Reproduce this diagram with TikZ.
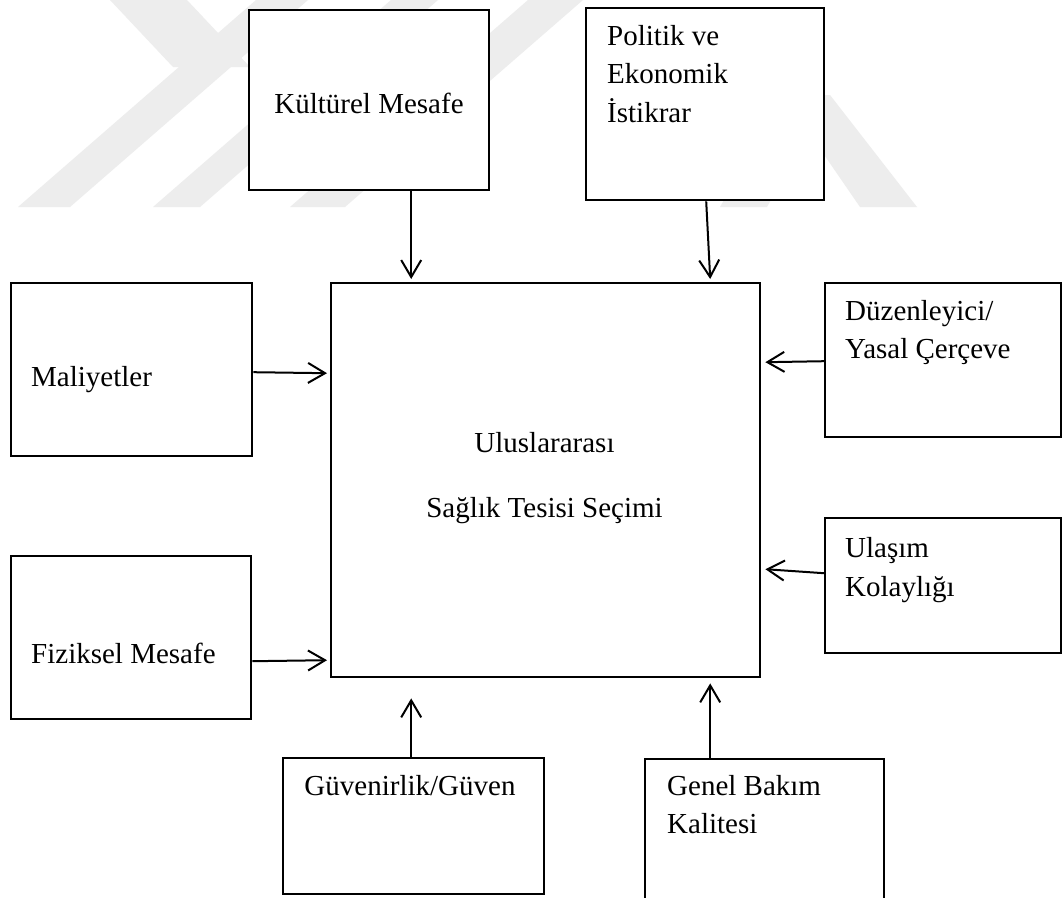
\documentclass[tikz,border=0pt]{standalone}
\usepackage{fontspec}
\setmainfont{Liberation Serif}
\usetikzlibrary{arrows.meta}

\definecolor{wmark}{RGB}{237,237,237}

\tikzset{
  box/.style={draw=black, line width=2.4pt, fill=white, rectangle, inner sep=0pt, anchor=north west},
  lbl/.style={anchor=base west, inner sep=0pt, font=\fontsize{29}{39}\selectfont},
  clbl/.style={anchor=base, inner sep=0pt, font=\fontsize{29}{39}\selectfont},
  arr/.style={line width=2pt, -{Straight Barb[length=17pt,width=20pt,line width=2pt]}},
  band/.style={fill=wmark, draw=none}
}

\begin{document}
\begin{tikzpicture}[x=1pt, y=-1pt]
  \useasboundingbox (0,0) rectangle (1062,897);
  \clip (0,0) rectangle (1062,897);
  \fill[white] (0,0) rectangle (1062,897);

  % light background emblem
  \fill[band] (18,207) -- (70,207) -- (308,0) -- (256,0) -- cycle;
  \fill[band] (110,0) -- (187,0) -- (250,67) -- (173,67) -- cycle;
  \fill[band] (153,207) -- (200,207) -- (438,0) -- (391,0) -- cycle;
  \fill[band] (290,207) -- (345,207) -- (583,0) -- (528,0) -- cycle;
  \fill[band] (720,207) -- (767,207) -- (830,95) -- (783,95) -- cycle;
  \fill[band] (783,95) -- (830,95) -- (917,207) -- (860,207) -- cycle;

  % boxes
  \node[box, minimum width=240pt, minimum height=180pt] (kult) at (248,9) {};
  \node[box, minimum width=238pt, minimum height=192pt] (pol) at (585,7) {};
  \node[box, minimum width=429pt, minimum height=394pt] (main) at (330,282) {};
  \node[box, minimum width=241pt, minimum height=173pt] (mal) at (10,282) {};
  \node[box, minimum width=236pt, minimum height=154pt] (duz) at (824,282) {};
  \node[box, minimum width=236pt, minimum height=135pt] (ula) at (824,517) {};
  \node[box, minimum width=240pt, minimum height=163pt] (fiz) at (10,555) {};
  \node[box, minimum width=261pt, minimum height=136pt] (guv) at (282,757) {};
  \node[box, minimum width=239pt, minimum height=170pt] (gen) at (644,758) {};

  % labels
  \node[clbl] (tkult) at (369,113) {Kültürel Mesafe};
  \node[lbl] (tpol1) at (607,45) {Politik ve};
  \node[lbl] (tpol2) at (607,83) {Ekonomik};
  \node[lbl] (tpol3) at (607,122) {İstikrar};
  \node[clbl] (tmain1) at (544.5,452) {Uluslararası};
  \node[clbl] (tmain2) at (544.5,517) {Sağlık Tesisi Seçimi};
  \node[lbl] (tmal) at (31,386) {Maliyetler};
  \node[lbl] (tduz1) at (845,320) {Düzenleyici/};
  \node[lbl] (tduz2) at (845,358) {Yasal Çerçeve};
  \node[lbl] (tula1) at (845,557) {Ulaşım};
  \node[lbl] (tula2) at (845,596) {Kolaylığı};
  \node[lbl] (tfiz) at (31,663) {Fiziksel Mesafe};
  \node[clbl] (tguv) at (410,795) {Güvenirlik/Güven};
  \node[lbl] (tgen1) at (667,795) {Genel Bakım};
  \node[lbl] (tgen2) at (667,833) {Kalitesi};

  % connectors
  \draw[arr] ([xshift=42pt]kult.south) -- ([xshift=-134.5pt,yshift=3pt]main.north);
  \draw[arr] ([xshift=1pt]pol.south) -- ([xshift=164.5pt,yshift=3pt]main.north);
  \draw[arr] ([yshift=-2.5pt]mal.east) -- ([yshift=107pt,xshift=-3pt]main.west);
  \draw[arr] ([yshift=-23.5pt]fiz.east) -- ([yshift=-180pt,xshift=-3pt]main.west);
  \draw[arr] ([yshift=-1pt]duz.west) -- ([yshift=118pt,xshift=4pt]main.east);
  \draw[arr] ([yshift=12.5pt]ula.west) -- ([yshift=-89pt,xshift=4pt]main.east);
  \draw[arr] ([xshift=-2.5pt]guv.north) -- ([xshift=-134.5pt,yshift=-20pt]main.south);
  \draw[arr] ([xshift=-54.5pt]gen.north) -- ([xshift=164.5pt,yshift=-5pt]main.south);
\end{tikzpicture}
\end{document}
